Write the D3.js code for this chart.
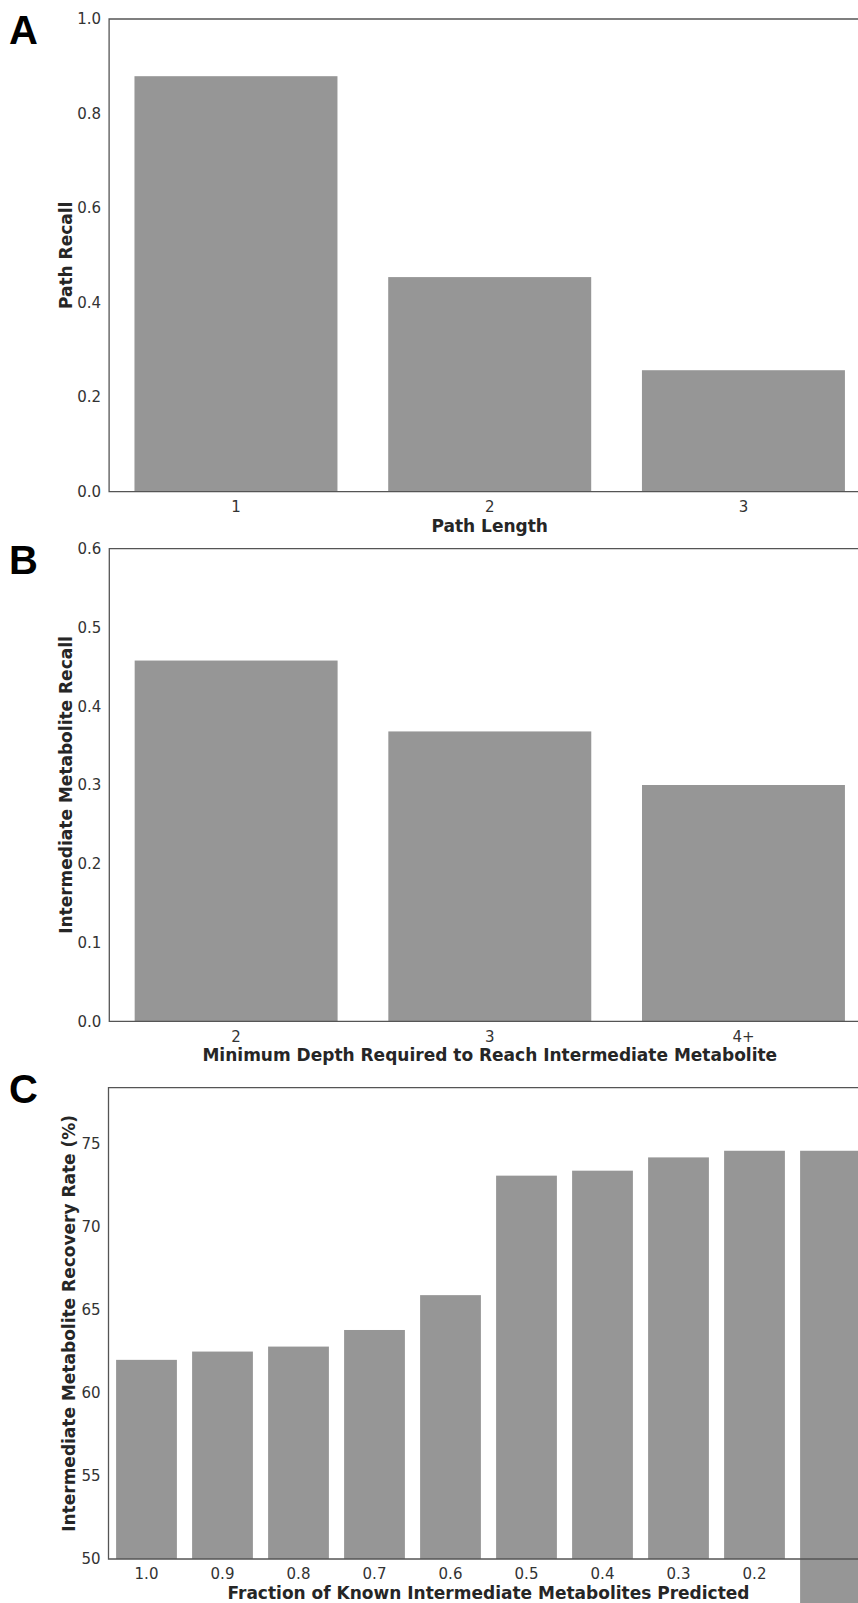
<!DOCTYPE html>
<html>
<head>
<meta charset="utf-8">
<style>
    html, body { margin: 0; padding: 0; background: #ffffff; }
    svg { display: block; }
    .tick text { font-family: "DejaVu Sans"; font-size: 15px; fill: #333333; }
    .axis-label { font-family: "DejaVu Sans"; font-weight: bold; font-size: 17px; fill: #262626; }
    .panel-letter { font-family: "Liberation Sans", Arial; font-weight: bold; font-size: 40px; fill: #000000; }
    .bar { fill: #969696; }
    .spine { stroke: #555555; stroke-width: 1.3; fill: none; }
</style>
</head>
<body>
<div id="chart"></div>
<script src="https://cdn.jsdelivr.net/npm/d3@7"></script>
<script>
    // ---- data ----
    var pathLengths = ["1", "2", "3"];
    var pathRecall = [0.879, 0.454, 0.257];

    var minDepths = ["2", "3", "4+"];
    var metaboliteRecall = [0.458, 0.368, 0.300];

    var fractions = ["1.0", "0.9", "0.8", "0.7", "0.6", "0.5", "0.4", "0.3", "0.2", "0.1"];
    var recoveryRate = [62.0, 62.5, 62.8, 63.8, 65.9, 73.1, 73.4, 74.2, 74.6, 74.6];

    var ticksA = [0.0, 0.2, 0.4, 0.6, 0.8, 1.0];
    var ticksB = [0.0, 0.1, 0.2, 0.3, 0.4, 0.5, 0.6];
    var ticksC = [50, 55, 60, 65, 70, 75];

    var W = 858, H = 1603;

    var svg = d3.select("#chart").append("svg")
        .attr("width", W)
        .attr("height", H);

    // draws one bar panel
    function panel(opts) {
        var g = svg.append("g");

        var x = d3.scaleBand()
            .domain(opts.cats)
            .range([opts.left, opts.right])
            .paddingInner(0.2)
            .paddingOuter(0.1);

        var y = d3.scaleLinear()
            .domain(opts.ydomain)
            .range([opts.bottom, opts.top]);

        // y ticks
        g.append("g")
            .attr("transform", "translate(" + opts.left + ",0)")
            .call(d3.axisLeft(y).tickValues(opts.yticks).tickSize(0).tickPadding(8).tickFormat(opts.fmt))
            .attr("font-size", 15).attr("font-family", "DejaVu Sans")
            .call(function (s) { s.select(".domain").remove(); });

        // x ticks
        g.append("g")
            .attr("transform", "translate(0," + opts.bottom + ")")
            .call(d3.axisBottom(x).tickSize(0).tickPadding(opts.xpad))
            .attr("font-size", 15).attr("font-family", "DejaVu Sans")
            .call(function (s) { s.select(".domain").remove(); });

        // bars
        g.selectAll(".bar")
            .data(opts.cats.map(function (c, i) { return { key: c, value: opts.values[i], i: i }; }))
            .enter().append("rect")
            .attr("class", "bar")
            .attr("x", function (d) { return x(d.key); })
            .attr("y", function (d) { return y(d.value); })
            .attr("width", x.bandwidth())
            .attr("height", function (d) {
                // last bar in panel C runs past the axis to the bottom of the figure
                if (opts.overflowLast && d.i === opts.cats.length - 1) return H - y(d.value);
                return opts.bottom - y(d.value);
            });

        // spines (left, top, bottom; right is outside the picture)
        g.append("path")
            .attr("class", "spine")
            .attr("d", "M" + opts.right + "," + opts.top + "H" + opts.left + "V" + opts.bottom + "H" + opts.right);

        // axis labels
        g.append("text")
            .attr("class", "axis-label")
            .attr("text-anchor", "middle")
            .attr("x", (opts.left + opts.right) / 2)
            .attr("y", opts.bottom + opts.xlabelOff)
            .text(opts.xlabel);

        g.append("text")
            .attr("class", "axis-label")
            .attr("text-anchor", "middle")
            .attr("transform", "translate(" + opts.ylabelX + "," + (opts.top + opts.bottom) / 2 + ") rotate(-90)")
            .text(opts.ylabel);

        g.append("text")
            .attr("class", "panel-letter")
            .attr("x", 9)
            .attr("y", opts.letterY)
            .text(opts.letter);
    }

    panel({
        cats: pathLengths, values: pathRecall,
        left: 109.1, right: 870.3, top: 19, bottom: 491.7,
        ydomain: [0, 1], yticks: ticksA, fmt: d3.format(".1f"),
        xpad: 10, xlabelOff: 40, xlabel: "Path Length",
        ylabelX: 71.5, ylabel: "Path Recall",
        letter: "A", letterY: 44
    });

    panel({
        cats: minDepths, values: metaboliteRecall,
        left: 109.3, right: 870.3, top: 548.7, bottom: 1021.3,
        ydomain: [0, 0.6], yticks: ticksB, fmt: d3.format(".1f"),
        xpad: 10, xlabelOff: 40, xlabel: "Minimum Depth Required to Reach Intermediate Metabolite",
        ylabelX: 71.5, ylabel: "Intermediate Metabolite Recall",
        letter: "B", letterY: 573.5
    });

    panel({
        cats: fractions, values: recoveryRate,
        left: 108.5, right: 868.5, top: 1087.7, bottom: 1559,
        ydomain: [50, 78.4], yticks: ticksC, fmt: d3.format("d"),
        xpad: 9, xlabelOff: 39.5, xlabel: "Fraction of Known Intermediate Metabolites Predicted",
        ylabelX: 75, ylabel: "Intermediate Metabolite Recovery Rate (%)",
        letter: "C", letterY: 1103,
        overflowLast: true
    });
</script>
</body>
</html>
